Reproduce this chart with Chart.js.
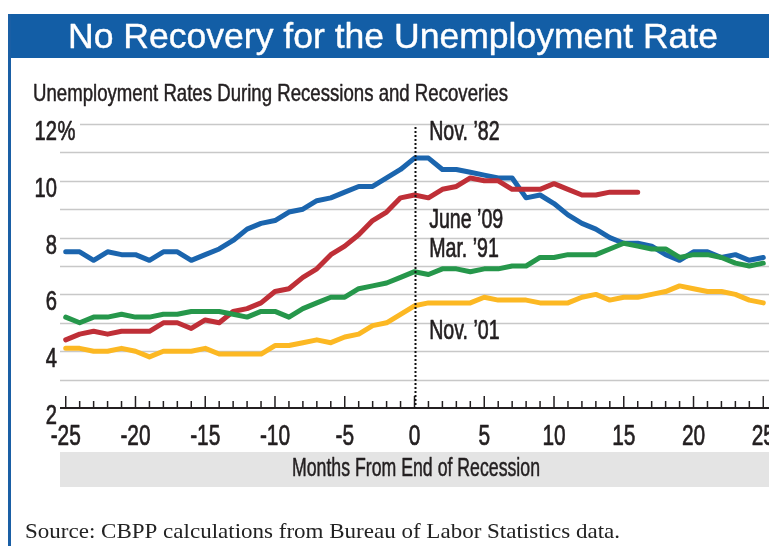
<!DOCTYPE html>
<html>
<head>
<meta charset="utf-8">
<script src="https://cdn.jsdelivr.net/npm/chart.js@4.4.1/dist/chart.umd.min.js"></script>
<style>
html,body{margin:0;padding:0;background:#fff;}
#wrap{position:relative;width:769px;height:546px;overflow:hidden;}
canvas{display:block;}
</style>
</head>
<body>
<div id="wrap"><canvas id="c" width="769" height="546"></canvas></div>
<script>
// ---- data (months from end of recession) ----
const months = [-25,-24,-23,-22,-21,-20,-19,-18,-17,-16,-15,-14,-13,-12,-11,-10,-9,-8,-7,-6,-5,-4,-3,-2,-1,0,
                1,2,3,4,5,6,7,8,9,10,11,12,13,14,15,16,17,18,19,20,21,22,23,24,25];

const nov82 = [7.5,7.5,7.2,7.5,7.4,7.4,7.2,7.5,7.5,7.2,7.4,7.6,7.9,8.3,8.5,8.6,8.9,9.0,9.3,9.4,9.6,9.8,9.8,10.1,10.4,10.8,
               10.8,10.4,10.4,10.3,10.2,10.1,10.1,9.4,9.5,9.2,8.8,8.5,8.3,8.0,7.8,7.8,7.7,7.4,7.2,7.5,7.5,7.3,7.4,7.2,7.3];

const jun09 = [4.4,4.6,4.7,4.6,4.7,4.7,4.7,5.0,5.0,4.8,5.1,5.0,5.4,5.5,5.7,6.1,6.2,6.6,6.9,7.4,7.7,8.1,8.6,8.9,9.4,9.5,
               9.4,9.7,9.8,10.1,10.0,10.0,9.7,9.7,9.7,9.9,9.7,9.5,9.5,9.6,9.6,9.6,null,null,null,null,null,null,null,null,null];

const mar91 = [5.2,5.0,5.2,5.2,5.3,5.2,5.2,5.3,5.3,5.4,5.4,5.4,5.3,5.2,5.4,5.4,5.2,5.5,5.7,5.9,5.9,6.2,6.3,6.4,6.6,6.8,
               6.7,6.9,6.9,6.8,6.9,6.9,7.0,7.0,7.3,7.3,7.4,7.4,7.4,7.6,7.8,7.7,7.6,7.6,7.3,7.4,7.4,7.3,7.1,7.0,7.1];

const nov01 = [4.1,4.1,4.0,4.0,4.1,4.0,3.8,4.0,4.0,4.0,4.1,3.9,3.9,3.9,3.9,4.2,4.2,4.3,4.4,4.3,4.5,4.6,4.9,5.0,5.3,5.6,
               5.7,5.7,5.7,5.7,5.9,5.8,5.8,5.8,5.7,5.7,5.7,5.9,6.0,5.8,5.9,5.9,6.0,6.1,6.3,6.2,6.1,6.1,6.0,5.8,5.7];

const seriesNames = ['Nov. \u201982','June \u201909','Mar. \u201991','Nov. \u201901'];

const xTickValues = [-25,-20,-15,-10,-5,0,5,10,15,20,25];
const xTickLabels = ['-25','-20','-15','-10','-5','0','5','10','15','20','25'];
const yTickValues = [2,4,6,8,10,12];
const yTickLabels = ['2','4','6','8','10','12%'];
const yGridValues = [3,4,5,6,7,8,9,10,11,12];

const titleText = 'No Recovery for the Unemployment Rate';
const subtitleText = 'Unemployment Rates During Recessions and Recoveries';
const xAxisTitle = 'Months From End of Recession';
const sourceText = 'Source: CBPP calculations from Bureau of Labor Statistics data.';

// ---- helpers ----
const INK = '#231f20';
const SANS = '"Liberation Sans", Arial, sans-serif';
const SERIF = '"Liberation Serif", "Times New Roman", serif';

function pts(arr){ return months.map((m,i)=>({x:m, y:arr[i]})); }

function drawText(ctx, str, x, y, opts){
  ctx.save();
  ctx.font = opts.font;
  ctx.fillStyle = opts.color || INK;
  ctx.strokeStyle = opts.color || INK;
  ctx.textBaseline = 'alphabetic';
  ctx.textAlign = 'left';
  const w = ctx.measureText(str).width;
  let sx = opts.scale || 1;
  if (opts.width) sx = opts.width / w;
  const ww = w * sx;
  let x0 = x;
  if (opts.align === 'center') x0 = x - ww/2;
  else if (opts.align === 'right') x0 = x - ww;
  ctx.translate(x0, y);
  ctx.scale(sx, 1);
  ctx.fillText(str, 0, 0);
  if (opts.bold) { ctx.lineWidth = opts.bold; ctx.lineJoin = 'round'; ctx.strokeText(str, 0, 0); }
  ctx.restore();
  return ww;
}

const decor = {
  id: 'decor',
  beforeDraw(chart){
    const ctx = chart.ctx;
    const xs = chart.scales.x, ys = chart.scales.y;
    const W = chart.width, H = chart.height;
    ctx.save();
    ctx.fillStyle = '#ffffff';
    ctx.fillRect(0,0,W,H);
    // title bar
    ctx.fillStyle = '#135ea6';
    ctx.fillRect(8, 14, W-8, 44);
    // left frame line
    ctx.fillStyle = '#1a5fa5';
    ctx.fillRect(8, 14, 3, H-14);
    ctx.restore();
    drawText(ctx, titleText, 68, 48, {font: '35px ' + SANS, color: '#ffffff', width: 650, bold: 0.4});
    drawText(ctx, subtitleText, 33, 101, {font: '24px ' + SANS, width: 475, bold: 0.5});

    // grid lines
    ctx.save();
    ctx.strokeStyle = '#c8c8c8';
    ctx.lineWidth = 1.4;
    yGridValues.forEach(v=>{
      const y = Math.round(ys.getPixelForValue(v)) + 0.5;
      const x0 = (v === 12) ? 80 : chart.chartArea.left;
      ctx.beginPath(); ctx.moveTo(x0, y); ctx.lineTo(chart.chartArea.right, y); ctx.stroke();
    });
    ctx.restore();

    // y tick labels
    yTickValues.forEach((v,i)=>{
      const lab = yTickLabels[i];
      const y = ys.getPixelForValue(v) + 16;
      const num = lab.replace('%','');
      drawText(ctx, num, 57, y, {font: '28px ' + SANS, scale: 0.72, align: 'right', bold: 0.7});
      if (lab.endsWith('%')) drawText(ctx, '%', 57.5, y, {font: '28px ' + SANS, scale: 0.72, bold: 0.7});
    });

    // x axis line and inward ticks
    const yAxis = ys.getPixelForValue(2);
    ctx.save();
    ctx.strokeStyle = INK;
    ctx.lineWidth = 2;
    ctx.beginPath(); ctx.moveTo(chart.chartArea.left, yAxis); ctx.lineTo(chart.chartArea.right, yAxis); ctx.stroke();
    ctx.lineWidth = 1.5;
    months.forEach(m=>{
      const x = xs.getPixelForValue(m);
      const len = (m % 5 === 0) ? 12 : 7;
      ctx.beginPath(); ctx.moveTo(x, yAxis); ctx.lineTo(x, yAxis - len); ctx.stroke();
    });
    ctx.restore();

    // x tick labels
    xTickValues.forEach((v,i)=>{
      drawText(ctx, xTickLabels[i], xs.getPixelForValue(v), 445, {font: '29px ' + SANS, scale: 0.72, align: 'center', bold: 0.7});
    });

    // axis title band
    ctx.save();
    ctx.fillStyle = '#e4e4e4';
    ctx.fillRect(chart.chartArea.left, 452, chart.chartArea.right - chart.chartArea.left, 35);
    ctx.restore();
    drawText(ctx, xAxisTitle, 416, 476, {font: '25px ' + SANS, width: 248, align: 'center', bold: 0.5});

    // source
    drawText(ctx, sourceText, 25, 538, {font: '22px ' + SERIF, width: 595, color: '#222'});
  },
  afterDatasetsDraw(chart){
    const ctx = chart.ctx;
    const xs = chart.scales.x, ys = chart.scales.y;
    const x0 = Math.round(xs.getPixelForValue(0)) + 0.5;
    ctx.save();
    ctx.strokeStyle = '#111';
    ctx.lineWidth = 2;
    ctx.setLineDash([2,2]);
    ctx.beginPath(); ctx.moveTo(x0, 127); ctx.lineTo(x0, ys.getPixelForValue(2)); ctx.stroke();
    ctx.restore();
    // series annotations
    const annX = xs.getPixelForValue(1.05);
    const annY = [11.44, 8.34, 7.32, 4.43];
    seriesNames.forEach((s,i)=>{
      drawText(ctx, s, annX, ys.getPixelForValue(annY[i]), {font: '28px ' + SANS, scale: 0.7, bold: 0.7});
    });
  }
};

const lineCommon = {borderWidth: 5, pointRadius: 0, tension: 0, fill: false,
                    borderJoinStyle: 'round', borderCapStyle: 'round', spanGaps: false};

new Chart(document.getElementById('c'), {
  type: 'line',
  data: {
    datasets: [
      Object.assign({label: seriesNames[2], data: pts(mar91), borderColor: '#26974b', order: 1}, lineCommon),
      Object.assign({label: seriesNames[1], data: pts(jun09), borderColor: '#bf2f37', order: 2}, lineCommon),
      Object.assign({label: seriesNames[0], data: pts(nov82), borderColor: '#1b65ae', order: 3}, lineCommon),
      Object.assign({label: seriesNames[3], data: pts(nov01), borderColor: '#fcb823', order: 4}, lineCommon)
    ]
  },
  options: {
    responsive: false,
    animation: false,
    devicePixelRatio: 1,
    layout: {padding: {left: 60, right: 0, top: 124, bottom: 138}},
    plugins: {legend: {display: false}, tooltip: {enabled: false}, title: {display: false}},
    scales: {
      x: {type: 'linear', display: false, min: -25.41, max: 25.41},
      y: {type: 'linear', display: false, min: 2, max: 12}
    },
    elements: {line: {clip: false}}
  },
  plugins: [decor]
});
</script>
</body>
</html>
